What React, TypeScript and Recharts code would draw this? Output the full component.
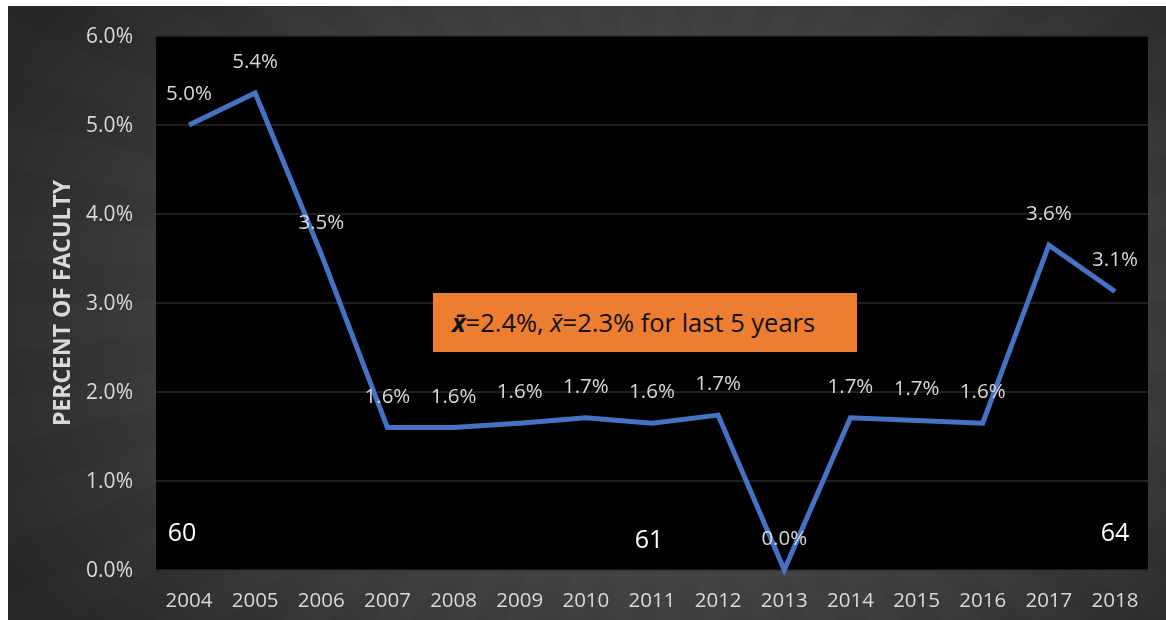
import React from 'react';
import { LineChart, Line, XAxis, YAxis, CartesianGrid, LabelList, ReferenceDot } from 'recharts';

// Percent of faculty leaving, by year
const years = ['2004', '2005', '2006', '2007', '2008', '2009', '2010', '2011', '2012', '2013', '2014', '2015', '2016', '2017', '2018'];
const percents = [5.0, 5.36, 3.55, 1.6, 1.6, 1.65, 1.71, 1.65, 1.74, 0.0, 1.71, 1.68, 1.65, 3.65, 3.13];
const pointLabels = ['5.0%', '5.4%', '3.5%', '1.6%', '1.6%', '1.6%', '1.7%', '1.6%', '1.7%', '0.0%', '1.7%', '1.7%', '1.6%', '3.6%', '3.1%'];
const yTicks = [0, 1, 2, 3, 4, 5, 6];

// faculty headcounts shown along the bottom
const countYears = ['2004', '2011', '2018'];
const counts = ['60', '61', '64'];

const data = years.map((year, i) => ({ year, pct: percents[i], label: pointLabels[i] }));

const FONT = '"Open Sans", sans-serif';
const TEXT = '#d9d9d9';

const App: React.FC = () => {
    return (
        <div
            style={{
                position: 'fixed',
                top: 6,
                left: 8,
                width: 1158,
                height: 614,
                fontFamily: FONT,
                background:
                    'repeating-conic-gradient(from 0deg at 56% 45%, rgba(255,255,255,0.006) 0deg 4deg, rgba(0,0,0,0.012) 4deg 8deg), radial-gradient(ellipse 800px 560px at 56% 50%, #4b4b4b 0%, #454545 45%, #272727 92%)',
            }}
        >
            <LineChart width={1158} height={614} data={data} margin={{ top: 30, right: 18, left: 0, bottom: 0 }}>
                <CartesianGrid vertical={false} stroke="#2a2a2a" strokeWidth={1.5} fill="#000000" />
                <XAxis
                    dataKey="year"
                    padding={{ left: 33, right: 33 }}
                    axisLine={false}
                    tickLine={false}
                    height={50}
                    tickMargin={16}
                    tick={{ fill: TEXT, fontSize: 20.5, fontFamily: FONT }}
                />
                <YAxis
                    domain={[0, 6]}
                    ticks={yTicks}
                    width={148}
                    axisLine={false}
                    tickLine={false}
                    tickMargin={17}
                    tickFormatter={(v: number) => `${v.toFixed(1)}%`}
                    tick={{ fill: TEXT, fontSize: 21, fontFamily: FONT }}
                    label={{
                        value: 'PERCENT OF FACULTY',
                        angle: -90,
                        position: 'center',
                        dx: -20,
                        style: { fill: TEXT, fontSize: 23, fontWeight: 700, fontFamily: FONT, textAnchor: 'middle' },
                    }}
                />
                <Line
                    type="linear"
                    dataKey="pct"
                    stroke="#4472c4"
                    strokeWidth={5}
                    dot={false}
                    activeDot={false}
                    isAnimationActive={false}
                >
                    <LabelList dataKey="label" position="top" offset={25} fill={TEXT} fontSize={20.5} fontFamily={FONT} />
                </Line>
                {countYears.map((yr, i) => (
                    <ReferenceDot
                        key={yr}
                        x={yr}
                        y={0.4}
                        r={0}
                        fill="none"
                        stroke="none"
                        label={{ value: counts[i], position: 'center', fill: '#ffffff', fontSize: 25, fontFamily: FONT, dx: i === 0 ? -7 : i === 1 ? -3 : 0, dy: i === 1 ? 5 : -2 }}
                    />
                ))}
            </LineChart>

            {/* mean callout */}
            <div
                style={{
                    position: 'absolute',
                    left: 425,
                    top: 287,
                    width: 424,
                    height: 59,
                    background: '#ed7d31',
                    color: '#111111',
                    fontSize: 25.5,
                    lineHeight: '59px',
                    paddingLeft: 19,
                    boxSizing: 'border-box',
                    whiteSpace: 'nowrap',
                }}
            >
                <b><i>x&#772;</i></b>=2.4%, <i>x&#772;</i>=2.3% for last 5 years
            </div>
        </div>
    );
};

export default App;
